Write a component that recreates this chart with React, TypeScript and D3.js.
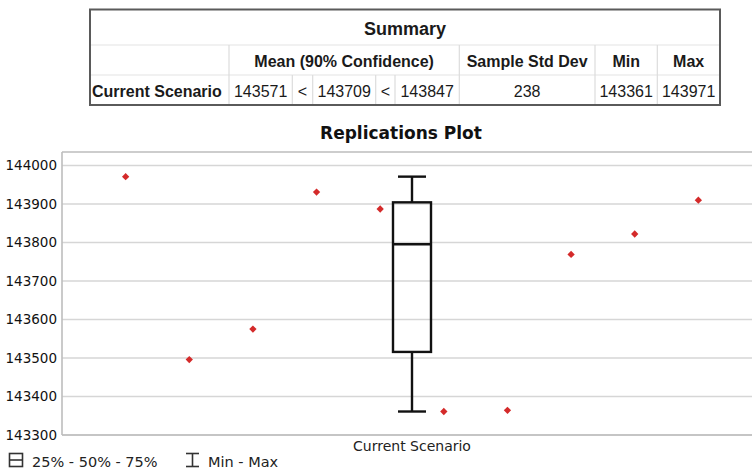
import React from "react";
import * as d3 from "d3";

const width = 752;
const height = 475;

// replication results (one dot per replication)
const replications = [1, 2, 3, 4, 5, 6, 7, 8, 9, 10];
const replicationValues = [
  143971, 143496, 143575, 143931, 143887, 143361, 143364, 143769, 143822, 143910,
];
const scenarios = ["Current Scenario"];
const yTicks = [143300, 143400, 143500, 143600, 143700, 143800, 143900, 144000];
const yDomain = [143300, 144035];

// summary table
const summaryTitle = "Summary";
const headerLabels = ["Mean (90% Confidence)", "Sample Std Dev", "Min", "Max"];
const rowLabel = "Current Scenario";
const rowCells = ["143571", "<", "143709", "<", "143847", "238", "143361", "143971"];

const legendLabels = ["25% - 50% - 75%", "Min - Max"];

// table layout
const colEdges = [90, 229, 292.3, 312.7, 375.7, 395, 459.3, 595, 657.3, 720];
const rowEdges = [9.5, 45, 75, 105];
const headerSpans = [
  [1, 6],
  [6, 7],
  [7, 8],
  [8, 9],
];

const tableFont = "'Liberation Sans', Arial, sans-serif";
const chartFont = "'DejaVu Sans', Verdana, sans-serif";

const SummaryTable = () => {
  const left = colEdges[0];
  const right = colEdges[colEdges.length - 1];
  const mid = (a: number, b: number) => (colEdges[a] + colEdges[b]) / 2;
  const txt = { fontFamily: tableFont, fill: "#1a1a1a" };
  return (
    <g>
      <rect x={left} y={rowEdges[0]} width={right - left} height={rowEdges[3] - rowEdges[0]} fill="#fff" />
      {/* inner lines */}
      <line x1={left} x2={right} y1={rowEdges[1]} y2={rowEdges[1]} stroke="#e4e4e4" strokeWidth={1.2} />
      <line x1={left} x2={right} y1={rowEdges[2]} y2={rowEdges[2]} stroke="#e4e4e4" strokeWidth={1.2} />
      {[1, 6, 7, 8].map((c) => (
        <line key={c} x1={colEdges[c]} x2={colEdges[c]} y1={rowEdges[1]} y2={rowEdges[3]} stroke="#dcdcdc" strokeWidth={1.2} />
      ))}
      {[2, 3, 4, 5].map((c) => (
        <line key={c} x1={colEdges[c]} x2={colEdges[c]} y1={rowEdges[2]} y2={rowEdges[3]} stroke="#dcdcdc" strokeWidth={1.2} />
      ))}
      <rect
        x={left}
        y={rowEdges[0]}
        width={right - left}
        height={rowEdges[3] - rowEdges[0]}
        fill="none"
        stroke="#5a5a5a"
        strokeWidth={2}
      />
      <text x={mid(0, 9)} y={35} textAnchor="middle" fontSize={18} fontWeight="bold" {...txt}>
        {summaryTitle}
      </text>
      {headerLabels.map((h, i) => (
        <text
          key={h}
          x={mid(headerSpans[i][0], headerSpans[i][1])}
          y={67}
          textAnchor="middle"
          fontSize={16}
          fontWeight="bold"
          {...txt}
        >
          {h}
        </text>
      ))}
      <text x={left + 2} y={97} fontSize={16} fontWeight="bold" {...txt}>
        {rowLabel}
      </text>
      {rowCells.map((v, i) => (
        <text key={i} x={mid(i + 1, i + 2)} y={97} textAnchor="middle" fontSize={16} {...txt}>
          {v}
        </text>
      ))}
    </g>
  );
};

export default function App() {
  const plotLeft = 62;
  const plotRight = 762;
  const plotTop = 152;
  const plotBottom = 435;

  const y = d3.scaleLinear().domain(yDomain).range([plotBottom, plotTop]);
  const xRep = d3.scalePoint<number>().domain(replications).range([plotLeft, plotRight]).padding(1);
  const xCat = d3.scaleBand().domain(scenarios).range([plotLeft, plotRight]);

  const sorted = [...replicationValues].sort(d3.ascending);
  const q1 = d3.quantileSorted(sorted, 0.25)!;
  const med = d3.quantileSorted(sorted, 0.5)!;
  const q3 = d3.quantileSorted(sorted, 0.75)!;
  const lo = d3.min(sorted)!;
  const hi = d3.max(sorted)!;

  const cx = xCat(scenarios[0])! + xCat.bandwidth() / 2;
  const boxW = 38;
  const capW = 28;
  const diamond = d3.symbol(d3.symbolDiamond2, 34)()!;

  return (
    <svg width={width} height={height} style={{ position: "absolute", left: 0, top: 0 }}>
      <rect width={width} height={height} fill="#fff" />
      <SummaryTable />

      <text x={401} y={139} textAnchor="middle" fontFamily={chartFont} fontSize={17} fontWeight="bold" fill="#111">
        Replications Plot
      </text>

      {/* grid */}
      {yTicks.map((t) => (
        <g key={t}>
          <line x1={plotLeft} x2={plotRight} y1={y(t)} y2={y(t)} stroke="#d6d6d6" strokeWidth={1.6} />
          <text
            x={57}
            y={y(t)}
            dy="0.36em"
            textAnchor="end"
            fontFamily={chartFont}
            fontSize={13.5}
            fill="#111"
          >
            {t}
          </text>
        </g>
      ))}
      <line x1={plotLeft} x2={plotRight} y1={plotTop} y2={plotTop} stroke="#bdbdbd" strokeWidth={1.6} />
      <line x1={plotLeft} x2={plotLeft} y1={plotTop} y2={plotBottom} stroke="#bdbdbd" strokeWidth={1.6} />
      <line x1={plotLeft} x2={plotRight} y1={plotBottom} y2={plotBottom} stroke="#bdbdbd" strokeWidth={1.6} />

      {/* box plot */}
      <g stroke="#111" strokeWidth={2.4} fill="none">
        <line x1={cx} x2={cx} y1={y(hi)} y2={y(q3)} />
        <line x1={cx} x2={cx} y1={y(q1)} y2={y(lo)} />
        <line x1={cx - capW / 2} x2={cx + capW / 2} y1={y(hi)} y2={y(hi)} />
        <line x1={cx - capW / 2} x2={cx + capW / 2} y1={y(lo)} y2={y(lo)} />
        <rect x={cx - boxW / 2} y={y(q3)} width={boxW} height={y(q1) - y(q3)} />
        <line x1={cx - boxW / 2} x2={cx + boxW / 2} y1={y(med)} y2={y(med)} />
      </g>

      {/* replication dots */}
      {replications.map((r, i) => (
        <path
          key={r}
          d={diamond}
          transform={`translate(${xRep(r)},${y(replicationValues[i])})`}
          fill="#d42a2a"
        />
      ))}

      <text x={cx} y={451} textAnchor="middle" fontFamily={chartFont} fontSize={14} fill="#222">
        {scenarios[0]}
      </text>

      {/* legend */}
      <g stroke="#333" strokeWidth={1.6} fill="none">
        <rect x={9.5} y={453.5} width={13} height={13} />
        <line x1={9.5} x2={22.5} y1={460} y2={460} />
        <line x1={186} x2={199} y1={453.5} y2={453.5} />
        <line x1={192.5} x2={192.5} y1={453.5} y2={466.5} />
        <line x1={186} x2={199} y1={466.5} y2={466.5} />
      </g>
      <text x={32} y={467} fontFamily={chartFont} fontSize={14.5} fill="#222">
        {legendLabels[0]}
      </text>
      <text x={208} y={467} fontFamily={chartFont} fontSize={14.5} fill="#222">
        {legendLabels[1]}
      </text>
    </svg>
  );
}
